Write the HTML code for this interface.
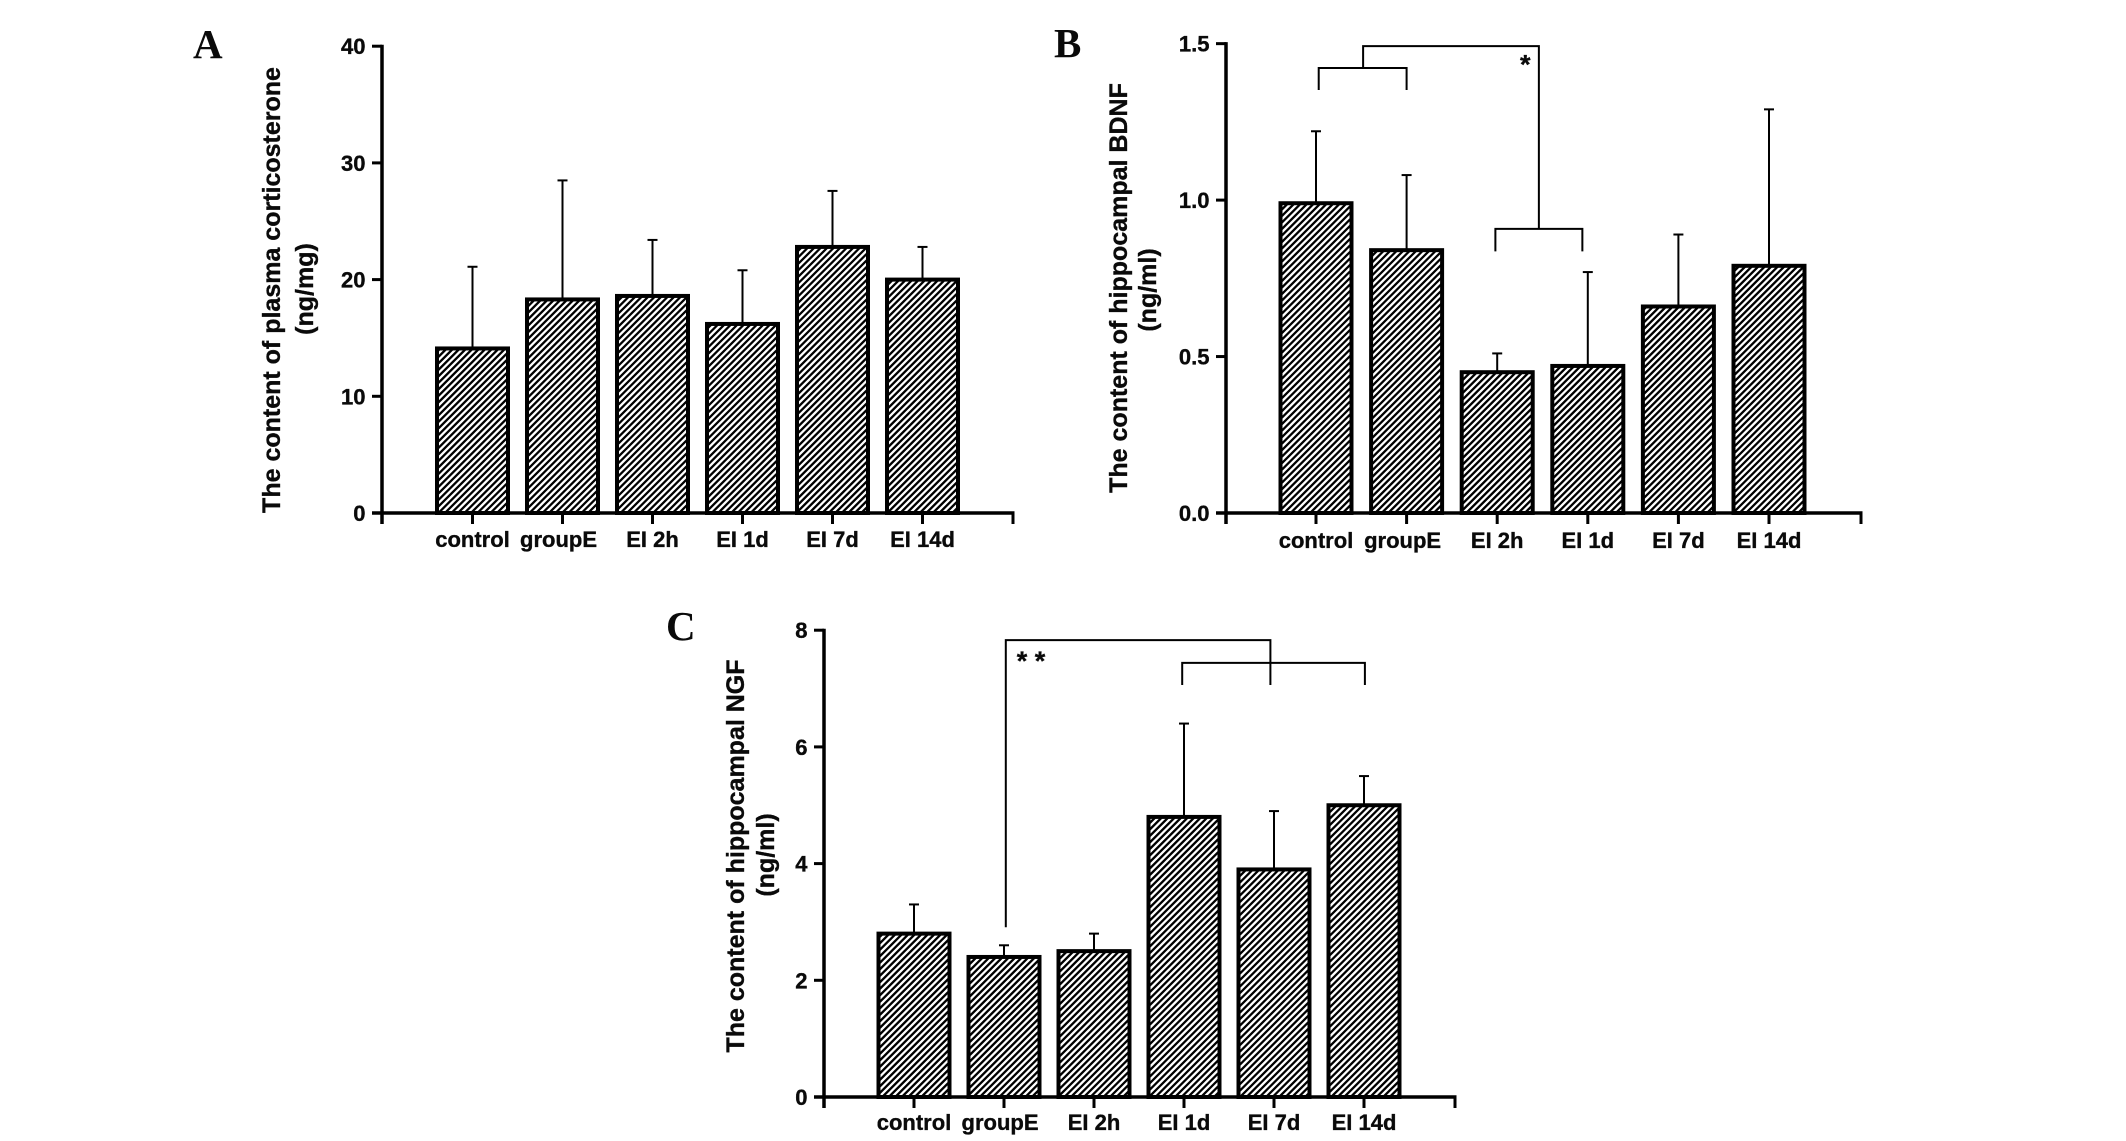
<!DOCTYPE html>
<html lang="en">
<head>
<meta charset="utf-8">
<title>Corticosterone, BDNF and NGF content by group</title>
<style>
html,body{margin:0;padding:0;background:#fff;}
svg{display:block;}
text{font-family:"Liberation Sans",sans-serif;font-weight:bold;fill:#0a0a0a;stroke:#0a0a0a;stroke-width:.35px;}
.letter{font-family:"Liberation Serif",serif;font-size:41px;stroke:none;}
</style>
</head>
<body>
<svg id="fig" xmlns="http://www.w3.org/2000/svg" width="2126" height="1141" viewBox="0 0 2126 1141">
  <defs>
    <pattern id="hatch" patternUnits="userSpaceOnUse" width="4.6" height="4.6" patternTransform="rotate(45)">
      <rect width="4.6" height="4.6" fill="#fff"/>
      <rect width="2.3" height="4.6" fill="#000"/>
    </pattern>
  </defs>
  <text class="letter" x="193" y="58">A</text>
  <text class="letter" x="1054" y="57">B</text>
  <text class="letter" x="666" y="640">C</text>

  <text x="0" y="0" transform="translate(280 290) rotate(-90)" text-anchor="middle" font-size="25">The content of plasma corticosterone</text>
  <text x="0" y="0" transform="translate(313 289) rotate(-90)" text-anchor="middle" font-size="25">(ng/mg)</text>
  <text x="0" y="0" transform="translate(1127 288) rotate(-90)" text-anchor="middle" font-size="25">The content of hippocampal BDNF</text>
  <text x="0" y="0" transform="translate(1156 290) rotate(-90)" text-anchor="middle" font-size="25">(ng/ml)</text>
  <text x="0" y="0" transform="translate(744 856) rotate(-90)" text-anchor="middle" font-size="25">The content of hippocampal NGF</text>
  <text x="0" y="0" transform="translate(774 855) rotate(-90)" text-anchor="middle" font-size="25">(ng/ml)</text>
</svg>
<script>
var categories = ['control', 'groupE', 'EI 2h', 'EI 1d', 'EI 7d', 'EI 14d'];

var aValues = [14.1, 18.3, 18.6, 16.2, 22.8, 20.0];
var aErrors = [21.1, 28.5, 23.4, 20.8, 27.6, 22.8];
var aTicks = [0, 10, 20, 30, 40];
var aTickLabels = ['0', '10', '20', '30', '40'];

var bValues = [0.99, 0.84, 0.45, 0.47, 0.66, 0.79];
var bErrors = [1.22, 1.08, 0.51, 0.77, 0.89, 1.29];
var bTicks = [0, 0.5, 1, 1.5];
var bTickLabels = ['0.0', '0.5', '1.0', '1.5'];

var cValues = [2.8, 2.4, 2.5, 4.8, 3.9, 5.0];
var cErrors = [3.3, 2.6, 2.8, 6.4, 4.9, 5.5];
var cTicks = [0, 2, 4, 6, 8];
var cTickLabels = ['0', '2', '4', '6', '8'];

var NS = 'http://www.w3.org/2000/svg';
var svg = document.getElementById('fig');

function add(parent, tag, attrs) {
  var el = document.createElementNS(NS, tag);
  for (var k in attrs) el.setAttribute(k, attrs[k]);
  parent.appendChild(el);
  return el;
}

function segment(parent, x1, y1, x2, y2, w) {
  return add(parent, 'line', {x1: x1, y1: y1, x2: x2, y2: y2, stroke: '#000', 'stroke-width': w});
}

function drawPanel(cfg) {
  var g = add(svg, 'g', {});
  
  

  var xScale = function (i) { return cfg.x0 + i * cfg.step; };
  var yScale = function (v) { return cfg.base - v * cfg.unit; };

  cfg.errors.forEach(function (e, i) {
    var x = xScale(i);
    var wrap = add(g, 'g', {});
    
    
    segment(wrap, x, yScale(cfg.values[i]), x, yScale(e), 2);
    segment(wrap, x - 5, yScale(e), x + 5, yScale(e), 2);
  });

  cfg.values.forEach(function (v, i) {
    var bar = add(g, 'rect', {
      x: xScale(i) - 35.5,
      y: yScale(v),
      width: 71,
      height: cfg.base - yScale(v),
      fill: 'url(#hatch)',
      stroke: '#000',
      'stroke-width': 4
    });
    
    
  });

  var yAxis = segment(g, cfg.axisX, yScale(cfg.ticks[cfg.ticks.length - 1]) - 1.5, cfg.axisX, cfg.base + 11, 3.5);
  
  

  var xAxis = segment(g, cfg.axisX - 10, cfg.base, cfg.axisEnd + 1.5, cfg.base, 3.5);
  
  

  var endTick = segment(g, cfg.axisEnd, cfg.base, cfg.axisEnd, cfg.base + 11, 3);
  
  

  cfg.ticks.forEach(function (t, i) {
    var tick = segment(g, cfg.axisX - 10, yScale(t), cfg.axisX, yScale(t), 3);
    
    
    var label = add(g, 'text', {x: cfg.axisX - 16.5, y: yScale(t) + 8, 'text-anchor': 'end', 'font-size': 22});
    label.textContent = cfg.tickLabels[i];
    
    
  });

  categories.forEach(function (c, i) {
    var tick = segment(g, xScale(i), cfg.base, xScale(i), cfg.base + 11, 3);
    
    
    var label = add(g, 'text', {x: xScale(i) + (i === 1 ? -4 : 0), y: cfg.labelY, 'text-anchor': 'middle', 'font-size': 22});
    label.textContent = c;
    
    
  });

  (cfg.brackets || []).forEach(function (b) {
    var path = add(g, 'path', {
      d: 'M' + xScale(b[0]) + ' ' + yScale(b[1]) +
         'V' + yScale(b[2]) +
         'H' + xScale(b[3]) +
         'V' + yScale(b[4]),
      fill: 'none',
      stroke: '#000',
      'stroke-width': 2
    });
    
    
  });

  (cfg.stars || []).forEach(function (s) {
    var star = add(g, 'text', {x: xScale(s[0]), y: yScale(s[1]), 'text-anchor': 'middle', 'font-size': 27});
    star.textContent = '*';
    
    
  });
}

drawPanel({
  values: aValues, errors: aErrors, ticks: aTicks, tickLabels: aTickLabels,
  x0: 472.5, step: 90, base: 513, unit: 11.67, axisX: 382, axisEnd: 1013, labelY: 547
});

drawPanel({
  values: bValues, errors: bErrors, ticks: bTicks, tickLabels: bTickLabels,
  x0: 1316, step: 90.6, base: 513, unit: 312.9, axisX: 1226, axisEnd: 1861, labelY: 548,
  brackets: [
    [0.03, 1.352, 1.422, 1.0, 1.352],
    [0.52, 1.422, 1.492, 2.46, 0.908],
    [1.98, 0.836, 0.908, 2.94, 0.836]
  ],
  stars: [[2.31, 1.405]]
});

drawPanel({
  values: cValues, errors: cErrors, ticks: cTicks, tickLabels: cTickLabels,
  x0: 914, step: 90, base: 1097, unit: 58.35, axisX: 824, axisEnd: 1455, labelY: 1130,
  brackets: [
    [1.02, 2.91, 7.83, 3.96, 7.06],
    [2.98, 7.06, 7.44, 5.01, 7.06]
  ],
  stars: [[1.20, 7.32], [1.40, 7.32]]
});
</script>
</body>
</html>
